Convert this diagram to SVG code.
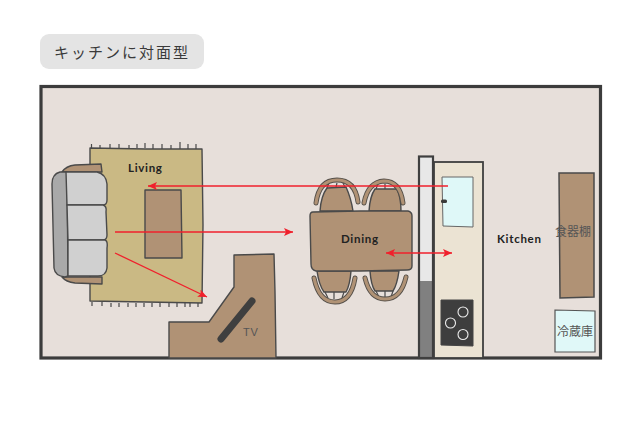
<svg xmlns="http://www.w3.org/2000/svg" width="640" height="427" viewBox="0 0 640 427">
<style>
.o{stroke:#4a4a4a;stroke-width:1.4;stroke-linejoin:round;stroke-linecap:round}
.br{fill:#b09275}
.lab{font-family:"Lato","Liberation Sans",sans-serif;font-weight:700;font-size:11.5px;fill:#222;letter-spacing:.7px}
.jp{font-family:"Noto Sans CJK JP",sans-serif;font-size:12px;fill:#555}
.conn{stroke:#f0202c;stroke-width:1.3;fill:none}
.arcd{fill:none;stroke:#55504a;stroke-width:5;stroke-linecap:round}
.arcl{fill:none;stroke:#b09275;stroke-width:3.200;stroke-linecap:round}
.fr{stroke:#4a4a4a;stroke-width:1.200;fill:none}
</style>
<defs>
<marker id="ah" markerUnits="userSpaceOnUse" markerWidth="10" markerHeight="8" refX="9" refY="4" orient="auto-start-reverse"><path d="M0 0L9 4L0 8L2 4Z" fill="#f0202c"/></marker>
</defs>
<rect width="640" height="427" fill="#fff"/>
<g id="title"><rect x="40" y="34" width="164" height="35" rx="9" fill="#e4e4e4"/><text x="54" y="57.500" font-family="'Noto Sans CJK JP',sans-serif" font-size="15" letter-spacing="2" fill="#3a3a3a">キッチンに対面型</text></g>
<g id="room"><rect x="41" y="86.500" width="559.500" height="271.500" fill="#e7dfda" stroke="#3c3c3c" stroke-width="3.200"/></g>
<g id="rug">
<path class="o" d="M90 148L146 149L202 149L203 225L202 303L146 302L90 301Z" fill="#cab984"/>
<path class="fr" d="M91.500 148V144M100 148V145M110 148V144M119 148V144M129 148V145M137 148V144M145 148V143M153 149V144M162 149V144M171 149V145M180 149V142M188 149V144M196 149V144M92 302V306M102 302V306M111 303V307M119 303V307M128 303V307M136 303V307M144 303V307M152 303V307M160 303V307M169 303V307M177 303V307M185 303V307M190 303V307M198 303V307"/>
</g>
<g id="sofa">
<path class="o br" d="M62 172Q66 166 75 165L101 164L102 172ZM62 277L102 277L102 284L75 283Q66 282 62 277Z"/>
<path class="o" d="M67 172L60 172Q52 174 52 184L54 268Q55 276 65 277L68 276Z" fill="#a9a9a9"/>
<path class="o" d="M66 172L97 172Q106 174 107 184L107 200Q107 205 103 205L67 205Z" fill="#d0d0d0"/>
<path class="o" d="M67 205L103 205Q107 206 106 212L107 235Q107 240 103 240L68 240Z" fill="#d0d0d0"/>
<path class="o" d="M68 240L105 240Q108 241 107 248L107 268Q106 276 98 276L68 276Z" fill="#d0d0d0"/>
</g>
<g id="coffee-table"><path class="o br" d="M145 190L181 190L182 258L145 258Z"/></g>
<text class="lab" x="128" y="172">Living</text>
<g id="tv"><path class="o br" d="M234 255L274 254L275 292L276 358L169 358L169 322L209 322L234 287Z"/><path d="M252 301L221 339" stroke="#3f3f3f" stroke-width="7" stroke-linecap="round"/><text x="243" y="336" font-family="'Liberation Sans',sans-serif" font-size="11" letter-spacing=".8" fill="#555">TV</text></g>
<g id="chairs">
<path class="o br" d="M320 211Q321 196 327 188L346 187Q351 198 353 211Z"/>
<path class="o br" d="M369 211Q370 196 375 189L397 189Q401 198 401 211Z"/>
<path class="o br" d="M317 271Q319 285 324 292L346 292Q350 285 351 271Z"/>
<path class="o br" d="M370 271Q371 285 375 291L393 291Q397 285 399 271Z"/>
<path class="fr" d="M327 188L329 183M336 187L337 183M345 187L343 183M376 189L378 184M385 189V184M396 189L393 184M325 292L328 298M334 292V299M344 292L342 298M376 291L379 297M385 291V298M393 291L391 297"/>
<path class="arcd" d="M316 203Q319 180 337 180Q355 180 358 202M364 203Q368 182 384 181Q400 181 403 203M314 278Q319 302 335 302Q351 302 355 278M365 278Q370 299 385 299Q401 299 406 277"/>
<path class="arcl" d="M316 203Q319 180 337 180Q355 180 358 202M364 203Q368 182 384 181Q400 181 403 203M314 278Q319 302 335 302Q351 302 355 278M365 278Q370 299 385 299Q401 299 406 277"/>
</g>
<g id="dining-table"><path class="o br" d="M313 212L360 211L408 211Q412 212 412 216L412 266Q412 270 407 270L360 271L316 271Q311 270 311 264L310 216Q310 212 313 212Z"/><text class="lab" x="341" y="243">Dining</text></g>
<g id="partition"><rect x="419" y="156.500" width="14" height="125" fill="#e8e8e8"/><rect x="419" y="281" width="14" height="77" fill="#808080"/><rect x="419" y="156.500" width="14" height="201.500" fill="none" stroke="#3f3f3f" stroke-width="2.200"/></g>
<g id="counter"><rect x="434" y="162" width="49" height="196" fill="#ebe3d3" stroke="#3f3f3f" stroke-width="1.800"/></g>
<g id="sink"><path d="M442 177L473 177L473 227L443 226Z" fill="#dff8f8" stroke="#666" stroke-width="1"/><rect x="441" y="199.500" width="6" height="3.500" rx="1.500" fill="#3a3a3a"/></g>
<g id="stove"><path d="M441 300L473 300L473 346L441 345Z" fill="#3e3e3e" stroke="#444" stroke-width="1"/><circle cx="463" cy="312" r="5" fill="none" stroke="#eee" stroke-width="1.100"/><circle cx="450.500" cy="323" r="5" fill="none" stroke="#eee" stroke-width="1.100"/><circle cx="463" cy="334.500" r="5" fill="none" stroke="#eee" stroke-width="1.100"/></g>
<text class="lab" x="497" y="243">Kitchen</text>
<g id="shelf"><path d="M559 173L594 173L594 297L560 298Z" class="br" stroke="#4a4a4a" stroke-width="1.500"/><text class="jp" x="555" y="236">食器棚</text></g>
<g id="fridge"><path d="M555 310L595 311L595 352L555 352Z" fill="#e0f8f8" stroke="#555" stroke-width="1.200"/><text class="jp" x="557" y="336">冷蔵庫</text></g>
<g id="connectors">
<line class="conn" x1="448" y1="186" x2="148" y2="186" marker-end="url(#ah)"/>
<line class="conn" x1="115" y1="232" x2="293" y2="232" marker-end="url(#ah)"/>
<line class="conn" x1="115" y1="253" x2="207" y2="297" marker-end="url(#ah)"/>
<line class="conn" x1="386" y1="253" x2="452" y2="253" marker-start="url(#ah)" marker-end="url(#ah)"/>
</g>
</svg>
